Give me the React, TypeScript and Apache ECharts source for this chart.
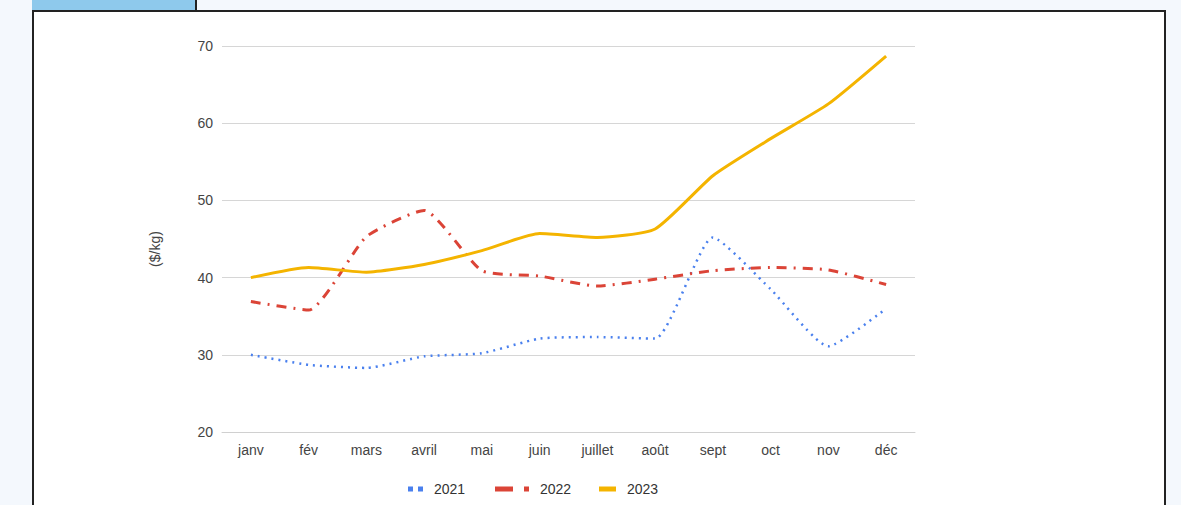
import React, { useEffect, useRef } from "react";
import * as echarts from "echarts";

const months = ["janv", "fév", "mars", "avril", "mai", "juin", "juillet", "août", "sept", "oct", "nov", "déc"];
const s2021 = [30.0, 28.7, 28.3, 29.8, 30.2, 32.1, 32.3, 32.1, 45.2, 38.5, 31.1, 36.0];
const s2022 = [36.9, 35.8, 45.3, 48.7, 40.9, 40.2, 38.9, 39.8, 40.9, 41.3, 41.0, 39.1];
const s2023 = [40.0, 41.3, 40.7, 41.7, 43.5, 45.7, 45.2, 46.3, 53.2, 58.0, 62.5, 68.7];
const yTicks = { min: 20, max: 70, interval: 10 };
const yName = "($/kg)";

const BLUE = "#4a80ee";
const RED = "#db4437";
const YELLOW = "#f4b400";

export default function App() {
  const ref = useRef<HTMLDivElement>(null);
  useEffect(() => {
    if (!ref.current) return;
    const chart = echarts.init(ref.current, null, { renderer: "svg" });
    const font = "Liberation Sans, Arial, sans-serif";
    const legendBase = {
      top: 477,
      itemHeight: 5,
      textStyle: { color: "#333", fontSize: 14, fontFamily: font, padding: [0, 0, 0, 6] },
      itemStyle: { borderWidth: 0 },
      lineStyle: { width: 0 },
    };
    chart.setOption({
      animation: false,
      grid: { left: 222, right: 266, top: 46, bottom: 73 },
      legend: [
        {
          ...legendBase,
          left: 403,
          itemWidth: 15,
          data: [{ name: "2021", icon: "path://M0,0h5v5h-5z M10,0h5v5h-5z" }],
        },
        {
          ...legendBase,
          left: 490,
          itemWidth: 34,
          data: [{ name: "2022", icon: "path://M0,0h18v5h-18z M29,0h5v5h-5z" }],
        },
        {
          ...legendBase,
          left: 594,
          itemWidth: 17,
          data: [{ name: "2023", icon: "path://M0,0h17v5h-17z" }],
        },
      ],
      xAxis: {
        type: "category",
        data: months,
        boundaryGap: true,
        axisLine: { lineStyle: { color: "#d0d0d0" } },
        axisTick: { show: false },
        axisLabel: { color: "#444", fontSize: 14, fontFamily: font, margin: 11 },
      },
      yAxis: {
        type: "value",
        min: yTicks.min,
        max: yTicks.max,
        interval: yTicks.interval,
        axisLine: { show: false },
        axisTick: { show: false },
        axisLabel: { color: "#444", fontSize: 14, fontFamily: font, margin: 9 },
        splitLine: { lineStyle: { color: "#d6d6d6", width: 1 } },
      },
      graphic: [
        {
          type: "text",
          x: 155,
          y: 249,
          rotation: Math.PI / 2,
          style: {
            text: yName,
            fill: "#444",
            font: `14px ${font}`,
            align: "center",
            verticalAlign: "middle",
          },
        },
      ],
      series: [
        {
          name: "2021",
          type: "line",
          data: s2021,
          smooth: 0.18,
          showSymbol: false,
          color: BLUE,
          lineStyle: { color: BLUE, width: 2.5, type: [2, 5] },
        },
        {
          name: "2022",
          type: "line",
          data: s2022,
          smooth: 0.18,
          showSymbol: false,
          color: RED,
          lineStyle: { color: RED, width: 3, type: [10, 7, 2, 7] },
        },
        {
          name: "2023",
          type: "line",
          data: s2023,
          smooth: 0.18,
          showSymbol: false,
          color: YELLOW,
          lineStyle: { color: YELLOW, width: 3 },
        },
      ],
    });
    return () => chart.dispose();
  }, []);

  return (
    <div style={{ position: "fixed", left: 0, top: 0, width: 1181, height: 505, background: "#f4f8fd", overflow: "hidden" }}>
      <div style={{ position: "absolute", left: 32, top: 0, width: 163, height: 10, background: "#8ec9ec", borderRight: "2px solid #222" }} />
      <div style={{ position: "absolute", left: 32, top: 10, width: 1130, height: 500, background: "#fff", border: "2px solid #222" }} />
      <div ref={ref} style={{ position: "absolute", left: 0, top: 0, width: 1181, height: 505 }} />
    </div>
  );
}
